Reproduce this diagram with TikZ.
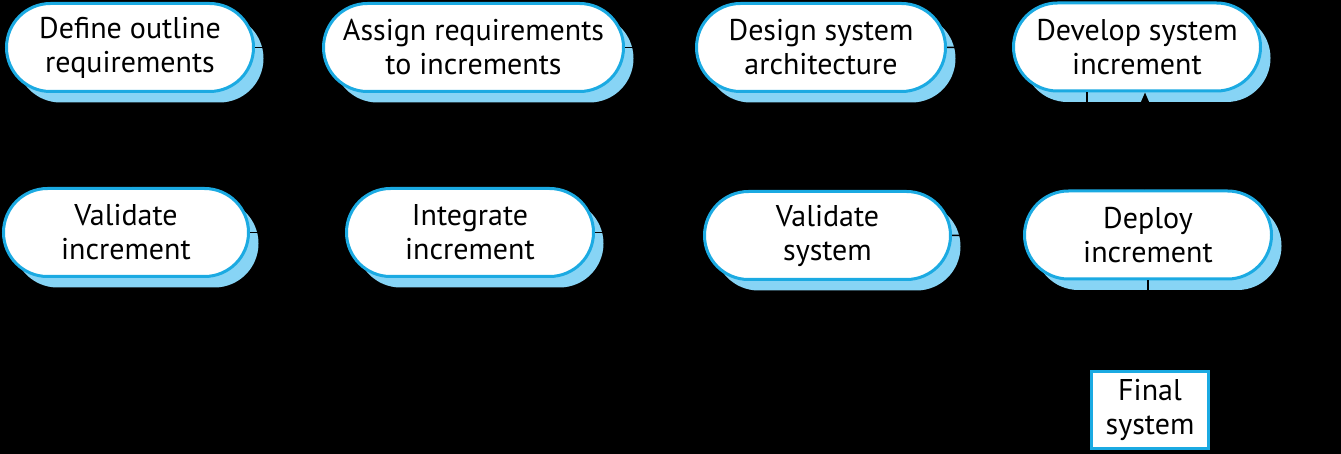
\documentclass[tikz,border=0pt]{standalone}
\usepackage{fontspec}
\setmainfont{PT Sans}
\usetikzlibrary{shadows,arrows.meta}
\definecolor{bordblue}{RGB}{27,170,226}
\definecolor{shblue}{RGB}{135,212,245}
\tikzset{
  proc/.style={draw=bordblue, line width=3pt, fill=white, rounded corners=44pt,
    minimum height=88pt, inner sep=2pt, align=center, text=black,
    font=\fontsize{30}{34}\selectfont,
    general shadow={shadow xshift=10pt, shadow yshift=-11pt, fill=shblue}},
  finbox/.style={draw=bordblue, line width=3pt, fill=white, minimum width=117pt,
    minimum height=77pt, inner sep=2pt, align=center, text=black,
    font=\fontsize{30}{34}\selectfont},
  conn/.style={draw=black, line width=1.5pt},
  arr/.style={conn, -{Triangle[length=11pt,width=9pt]}}
}
\begin{document}
\begin{tikzpicture}[x=1pt,y=-1pt]
\fill[black] (0,0) rectangle (1341,454);
\useasboundingbox (0,0) rectangle (1341,454);
\node[proc, minimum width=247pt] (def) at (130,47.5) {Define outline\\requirements};
\node[proc, minimum width=300pt] (ass) at (473.5,47.5) {Assign requirements\\to increments};
\node[proc, minimum width=249pt] (des) at (821,47.5) {Design system\\architecture};
\node[proc, minimum width=247pt] (dev) at (1137,47) {Develop system\\increment};
\node[proc, minimum width=245pt] (vi) at (126,232.5) {Validate\\increment};
\node[proc, minimum width=247pt] (int) at (470,232.5) {Integrate\\increment};
\node[proc, minimum width=246pt] (vs) at (827.5,235.5) {Validate\\system};
\node[proc, minimum width=247pt] (dep) at (1148,235) {Deploy\\increment};
\node[finbox] (fin) at (1150,410) {Final\\system};
\draw[arr] (def) -- (ass);
\draw[arr] (ass) -- (des);
\draw[arr] (des) -- (dev);
\draw[arr] ([xshift=-50pt]dev.south) -- ++(0,57) -| ([xshift=5pt]vi.north);
\draw[arr] (vi) -- (int);
\draw[arr] (int.east) -- (vs.west |- int.east);
\draw[arr] (vs) -- (dep);
\draw[arr] ([xshift=-3pt]dep.north) -- ([xshift=-3pt]dep.north |- dev.south);
\draw[arr] (dep.south) -- (dep.south |- fin.north);
\end{tikzpicture}
\end{document}
